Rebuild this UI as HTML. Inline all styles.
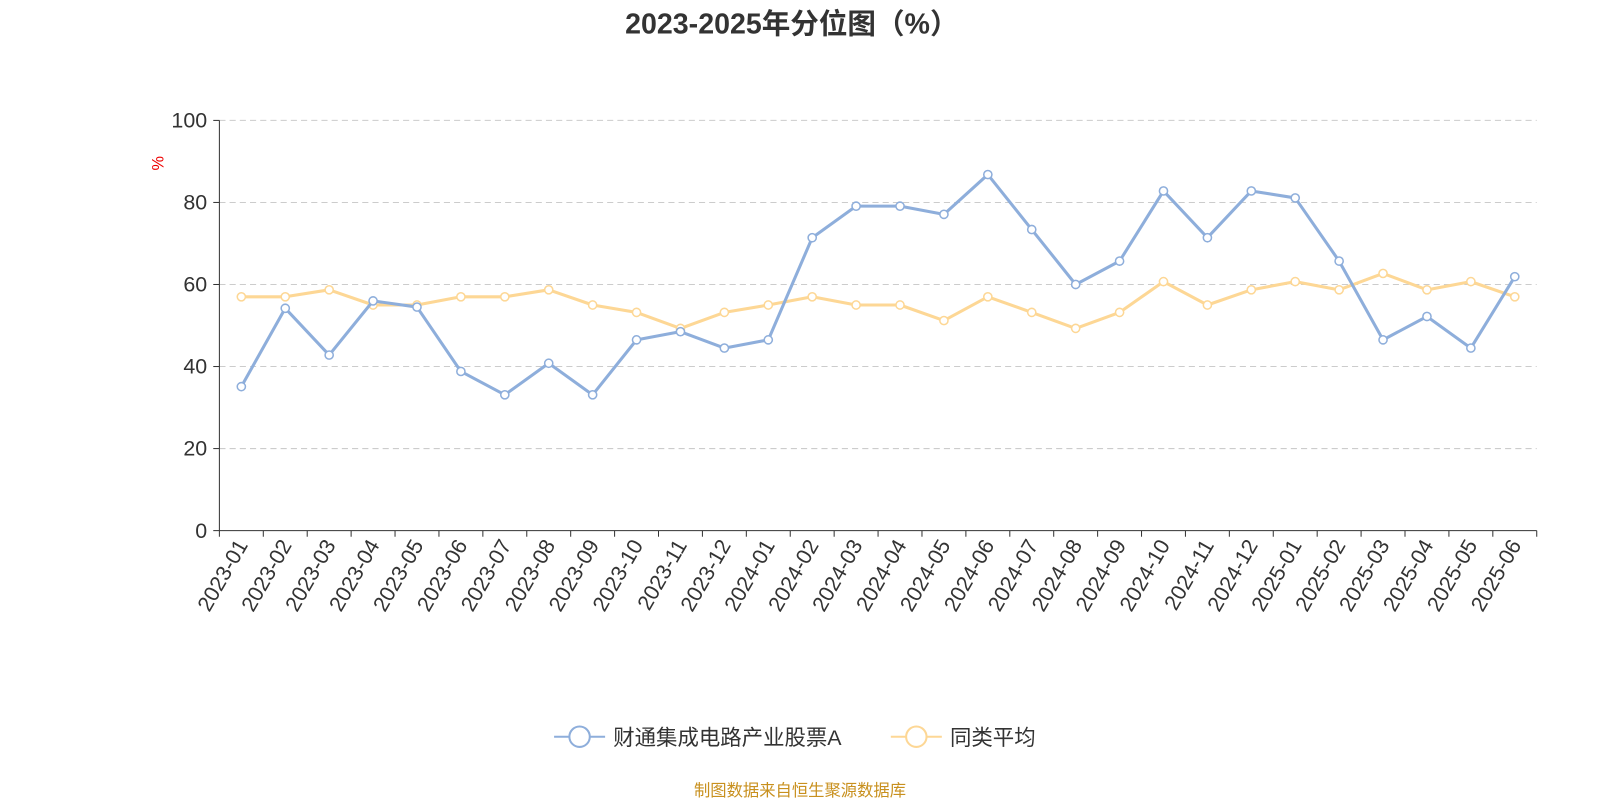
<!DOCTYPE html>
<html><head><meta charset="utf-8"><style>
body{margin:0;background:#fff;}
svg{display:block;font-family:"Liberation Sans","Noto Sans CJK SC",sans-serif;}
</style></head><body>
<svg id="c" width="1600" height="800" viewBox="0 0 1568 784" preserveAspectRatio="none">
<text x="776" y="33" text-anchor="middle" font-size="28" font-weight="bold" fill="#333">2023-2025年分位图（%）</text>
<text x="160" y="160" font-size="16" fill="#e00" transform="rotate(-90 160 160)" text-anchor="middle">%</text>
<g id="grid"></g><g id="axes"></g><g id="series"></g>
<g>
<g>
<line x1="543" y1="722" x2="593" y2="722" stroke="#8eaedb" stroke-width="2"/>
<circle cx="568" cy="722" r="10" fill="#fff" stroke="#8eaedb" stroke-width="2"/>
<text x="601" y="730" font-size="21" fill="#333">财通集成电路产业股票A</text></g>
<g>
<line x1="873" y1="722" x2="923" y2="722" stroke="#fdd795" stroke-width="2"/>
<circle cx="898" cy="722" r="10" fill="#fff" stroke="#fdd795" stroke-width="2"/>
<text x="931" y="730" font-size="21" fill="#333">同类平均</text></g>
</g>
<text x="784" y="780" text-anchor="middle" font-size="16" fill="#c8901e">制图数据来自恒生聚源数据库</text>
</svg>
<script>
const categories=["2023-01","2023-02","2023-03","2023-04","2023-05","2023-06","2023-07","2023-08","2023-09","2023-10","2023-11","2023-12","2024-01","2024-02","2024-03","2024-04","2024-05","2024-06","2024-07","2024-08","2024-09","2024-10","2024-11","2024-12","2025-01","2025-02","2025-03","2025-04","2025-05","2025-06"];
const fundValues=[35.1,54.2,42.8,56,54.5,38.8,33.1,40.8,33.1,46.5,48.5,44.5,46.5,71.4,79.1,79.1,77.1,86.8,73.4,60,65.7,82.8,71.4,82.8,81.1,65.7,46.5,52.2,44.5,61.9];
const avgValues=[57,57,58.7,55,55,57,57,58.7,55,53.2,49.3,53.2,55,57,55,55,51.2,57,53.2,49.3,53.2,60.7,55,58.7,60.7,58.7,62.7,58.7,60.7,57];
const yTicks=[0,20,40,60,80,100];
const NS="http://www.w3.org/2000/svg";
const x0=215,x1=1506,yB=520,yT=118;
const bw=(x1-x0)/categories.length;
const xs=i=>x0+bw*(i+0.5);
const ys=v=>yB-(v/100)*(yB-yT);
function mk(t,a,p){const e=document.createElementNS(NS,t);for(const k in a)e.setAttribute(k,a[k]);p.appendChild(e);return e;}
const grid=document.getElementById('grid'),axes=document.getElementById('axes'),ser=document.getElementById('series');
yTicks.forEach(v=>{
 if(v>0){const g=mk('line',{x1:x0,x2:x1,y1:ys(v),y2:ys(v),stroke:'#ccc','stroke-dasharray':'6,4'},grid);
 }
 mk('line',{x1:x0-6,x2:x0,y1:ys(v),y2:ys(v),stroke:'#333'},axes);
 const t=mk('text',{x:x0-12,y:ys(v)+7,'text-anchor':'end','font-size':21,fill:'#333'},axes);t.textContent=v;
 
});
const ya=mk('line',{x1:x0,x2:x0,y1:yT,y2:yB,stroke:'#333'},axes);

const xa=mk('line',{x1:x0,x2:x1,y1:yB,y2:yB,stroke:'#333'},axes);

for(let i=0;i<=categories.length;i++)mk('line',{x1:x0+bw*i,x2:x0+bw*i,y1:yB,y2:yB+6,stroke:'#333'},axes);
categories.forEach((c,i)=>{
 const x=xs(i)+7,y=yB+14;
 const t=mk('text',{x:x,y:y,'text-anchor':'end','font-size':21,fill:'#333',transform:`rotate(-60 ${x} ${y})`},axes);
 t.textContent=c;
});
function series(vals,color,name){
 const p=mk('polyline',{points:vals.map((v,i)=>xs(i)+','+ys(v)).join(' '),fill:'none',stroke:color,'stroke-width':3,'stroke-linejoin':'round'},ser);
 
 vals.forEach((v,i)=>{const c=mk('circle',{cx:xs(i),cy:ys(v),r:4,fill:'#fff',stroke:color,'stroke-width':1.5},ser);
 });
}
series(avgValues,'#fdd795','average');
series(fundValues,'#8eaedb','fund');
</script>
</body></html>
